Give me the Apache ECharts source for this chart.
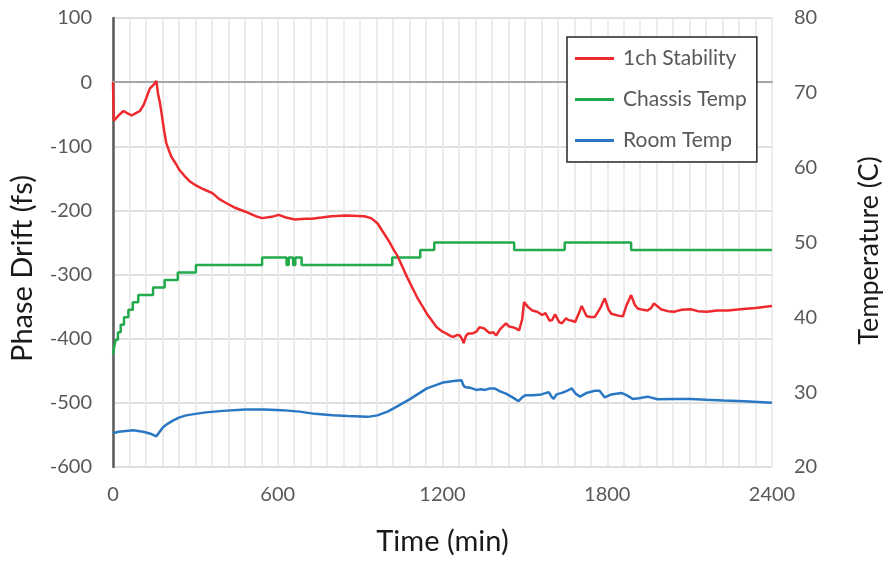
<!DOCTYPE html>
<html>
<head>
<meta charset="utf-8">
<script src="https://cdn.jsdelivr.net/npm/echarts@6/dist/echarts.min.js"></script>
<style>
  html, body { margin: 0; padding: 0; background: #fff; }
  #chart { width: 891px; height: 561px; }
</style>
</head>
<body>
<div id="chart"></div>
<script>
// 1ch Stability (fs), left axis
const stabilityTime = [0, 3, 10, 25, 38, 55, 68, 85, 98, 112, 122, 134, 150, 158, 164, 170, 176, 186, 194, 212, 230, 242, 260, 278, 302, 330, 362, 386, 410, 440, 482, 520, 543, 578, 603, 630, 663, 700, 723, 760, 795, 850, 915, 940, 963, 987, 1005, 1023, 1035, 1071, 1107, 1143, 1179, 1200, 1215, 1230, 1239, 1255, 1263, 1272, 1277, 1285, 1293, 1308, 1323, 1335, 1341, 1352, 1371, 1385, 1395, 1410, 1431, 1443, 1455, 1467, 1479, 1490, 1497, 1510, 1527, 1545, 1563, 1575, 1590, 1599, 1610, 1617, 1625, 1635, 1650, 1659, 1672, 1683, 1695, 1707, 1725, 1740, 1755, 1775, 1791, 1805, 1815, 1840, 1857, 1870, 1887, 1900, 1911, 1930, 1947, 1960, 1970, 1977, 1985, 1995, 2020, 2043, 2070, 2104, 2130, 2163, 2200, 2240, 2284, 2340, 2400];
const stabilityVal = [0, -60, -57, -50, -45, -49, -52, -48, -45, -35, -24, -10, -3, 2, -18, -30, -46, -75, -95, -116, -128, -137, -146, -154, -161, -167, -173, -182, -188, -195, -202, -209, -212, -210, -207, -211, -214, -213, -213, -211, -209, -208, -209, -212, -220, -236, -248, -262, -270, -304, -335, -361, -382, -389, -392, -396, -397, -394, -395, -401, -407, -396, -392, -392, -389, -382, -379, -384, -391, -390, -395, -385, -376, -381, -382, -384, -387, -370, -343, -350, -356, -358, -363, -360, -372, -371, -362, -364, -374, -376, -368, -371, -372, -374, -362, -349, -365, -366, -366, -352, -337, -355, -361, -364, -365, -348, -332, -347, -353, -355, -356, -352, -345, -344, -350, -354, -357, -358, -355, -354, -357, -358, -356, -356, -354, -352, -349];

// Chassis Temp (C), right axis, stepped
const chassisTime = [0, 4, 10, 18, 28, 40, 56, 72, 92, 146, 188, 236, 302, 543, 632, 640, 656, 664, 687, 1017, 1119, 1170, 1461, 1645, 1887, 2400];
const chassisVal = [35, 36, 37, 38, 39, 40, 41, 42, 43, 44, 45, 46, 47, 48, 47, 48, 47, 48, 47, 48, 49, 50, 49, 50, 49, 49];

// Room Temp (C), right axis
const roomTime = [0, 20, 74, 110, 140, 158, 170, 182, 200, 218, 240, 266, 300, 338, 400, 482, 550, 615, 680, 735, 800, 855, 927, 963, 1000, 1035, 1083, 1143, 1203, 1240, 1269, 1275, 1281, 1300, 1323, 1340, 1355, 1372, 1389, 1410, 1431, 1455, 1477, 1490, 1503, 1530, 1560, 1587, 1597, 1605, 1615, 1635, 1655, 1671, 1685, 1701, 1725, 1755, 1772, 1791, 1815, 1851, 1870, 1893, 1915, 1947, 1983, 2040, 2104, 2160, 2224, 2300, 2400];
const roomVal = [24.5, 24.7, 24.9, 24.7, 24.4, 24.1, 24.7, 25.3, 25.8, 26.2, 26.6, 26.9, 27.1, 27.3, 27.5, 27.7, 27.7, 27.6, 27.4, 27.1, 26.9, 26.8, 26.7, 26.9, 27.4, 28.1, 29.1, 30.5, 31.3, 31.5, 31.6, 31.0, 30.7, 30.6, 30.3, 30.4, 30.3, 30.5, 30.5, 30.1, 29.8, 29.3, 28.8, 29.3, 29.6, 29.6, 29.7, 30.0, 29.4, 29.1, 29.7, 29.9, 30.2, 30.5, 29.8, 29.4, 29.9, 30.2, 30.2, 29.3, 29.7, 29.9, 29.6, 29.1, 29.2, 29.4, 29.05, 29.1, 29.1, 29.0, 28.9, 28.8, 28.6];

const xTicks = [0, 600, 1200, 1800, 2400];

const zip = (ts, vs) => ts.map((t, i) => [t, vs[i]]);

const chart = echarts.init(document.getElementById('chart'));
const font = 'Lato, "Open Sans", sans-serif';

chart.setOption({
  animation: false,
  backgroundColor: '#fff',
  textStyle: { fontFamily: font },
  grid: { left: 113, right: 112, top: 18, bottom: 94 },
  legend: {
    orient: 'vertical',
    left: 567,
    top: 37,
    padding: [11, 10, 11, 8],
    itemGap: 20,
    itemWidth: 39,
    itemHeight: 3,
    icon: 'rect',
    borderColor: '#262626',
    borderWidth: 1.5,
    backgroundColor: '#fff',
    textStyle: { fontSize: 21, lineHeight: 20, color: '#595959', fontFamily: font, padding: [0, 0, 0, 4] },
    data: ['1ch Stability', 'Chassis Temp', 'Room Temp']
  },
  xAxis: {
    type: 'value',
    min: 0,
    max: 2400,
    interval: 600,
    name: 'Time (min)',
    nameLocation: 'middle',
    nameGap: 60,
    nameTextStyle: { fontSize: 29, color: '#1a1a1a', fontFamily: font },
    axisLine: { lineStyle: { color: '#A6A6A6', width: 2 } },
    axisTick: { show: false },
    axisLabel: {
      margin: 18, fontSize: 20, color: '#595959',
      formatter: v => xTicks.includes(v) ? String(v) : ''
    },
    splitLine: { show: true, lineStyle: { color: '#E6E6E6', width: 1.5 } },
    minorTick: { show: false, splitNumber: 10 },
    minorSplitLine: { show: true, lineStyle: { color: '#E6E6E6', width: 1.5 } }
  },
  yAxis: [
    {
      type: 'value',
      min: -600,
      max: 100,
      interval: 100,
      name: 'Phase Drift (fs)',
      nameLocation: 'middle',
      nameRotate: 90,
      nameGap: 76,
      nameTextStyle: { fontSize: 29, color: '#1a1a1a', fontFamily: font, padding: [0, 52, 0, 0] },
      axisLine: { show: true, lineStyle: { color: '#595959', width: 2.5 } },
      axisTick: { show: false },
      axisLabel: { margin: 21, fontSize: 20, color: '#595959' },
      splitLine: { show: true, lineStyle: { color: '#D4D4D4', width: 1.5 } }
    },
    {
      type: 'value',
      min: 20,
      max: 80,
      interval: 10,
      position: 'right',
      name: 'Temperature (C)',
      nameLocation: 'middle',
      nameRotate: 90,
      nameGap: 84,
      nameTextStyle: { fontSize: 27, color: '#1a1a1a', fontFamily: font, padding: [0, 16, 0, 0] },
      axisLine: { show: false },
      axisTick: { show: false },
      axisLabel: { margin: 22, fontSize: 20, color: '#595959' },
      splitLine: { show: false }
    }
  ],
  series: [
    {
      name: '1ch Stability',
      type: 'line',
      yAxisIndex: 0,
      showSymbol: false,
      symbol: 'none',
      z: 4,
      color: '#EE2A2E',
      lineStyle: { color: '#EE2A2E', width: 2.5 },
      data: zip(stabilityTime, stabilityVal)
    },
    {
      name: 'Chassis Temp',
      type: 'line',
      yAxisIndex: 1,
      step: 'end',
      showSymbol: false,
      symbol: 'none',
      z: 3,
      color: '#22AA4C',
      lineStyle: { color: '#22AA4C', width: 2.5 },
      data: zip(chassisTime, chassisVal)
    },
    {
      name: 'Room Temp',
      type: 'line',
      yAxisIndex: 1,
      showSymbol: false,
      symbol: 'none',
      z: 3,
      color: '#2A78C4',
      lineStyle: { color: '#2A78C4', width: 2.5 },
      data: zip(roomTime, roomVal)
    }
  ]
});
</script>
</body>
</html>
